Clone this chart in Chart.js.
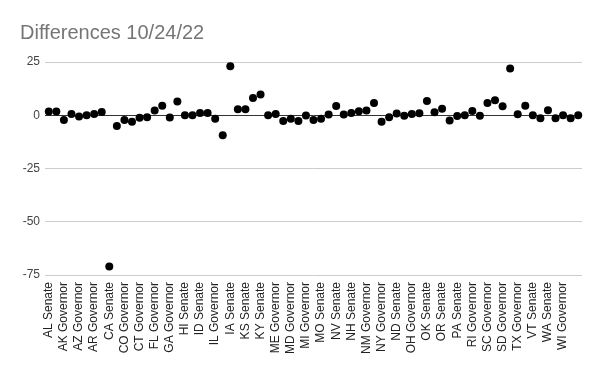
<!DOCTYPE html>
<html>
<head>
<meta charset="utf-8">
<title>Differences 10/24/22</title>
<style>
*{padding:0;margin:0;box-sizing:border-box}
html,body{background:#ffffff}
.wrapper{position:fixed;left:0;top:0;width:600px;height:371px}
</style>
</head>
<body>
<div class="wrapper">
<canvas id="myChart" width="600" height="371"></canvas>
</div>
<script src="https://cdn.jsdelivr.net/npm/chart.js"></script>
<script>
const chartTitle = 'Differences 10/24/22';

const races = [
  'AL Senate', 'AK Senate', 'AK Governor', 'AZ Senate', 'AZ Governor', 'AR Senate', 'AR Governor', 'CA Governor',
  'CA Senate', 'CO Senate', 'CO Governor', 'CT Senate', 'CT Governor', 'FL Senate', 'FL Governor', 'GA Senate',
  'GA Governor', 'HI Governor', 'HI Senate', 'ID Governor', 'ID Senate', 'IL Senate', 'IL Governor', 'IN Senate',
  'IA Senate', 'IA Governor', 'KS Senate', 'KS Governor', 'KY Senate', 'LA Senate', 'ME Governor', 'MD Senate',
  'MD Governor', 'MA Governor', 'MI Governor', 'MN Governor', 'MO Senate', 'NE Governor', 'NV Senate', 'NV Governor',
  'NH Senate', 'NH Governor', 'NM Governor', 'NY Senate', 'NY Governor', 'NC Senate', 'ND Senate', 'OH Senate',
  'OH Governor', 'OK Governor', 'OK Senate', 'OK Senate (Special)', 'OR Senate', 'OR Governor', 'PA Senate', 'PA Governor',
  'RI Governor', 'SC Senate', 'SC Governor', 'SD Senate', 'SD Governor', 'TN Governor', 'TX Governor', 'UT Senate',
  'VT Senate', 'VT Governor', 'WA Senate', 'WI Senate', 'WI Governor', 'WY Governor', 'US House',
];

const differences = [
  1.8, 1.8, -2.2, 0.6, -0.6, 0, 0.6, 1.5,
  -71, -5, -2.2, -3, -1.2, -0.9, 2.2, 4.5,
  -1, 6.5, 0, 0, 1.1, 1.1, -1.6, -9.4,
  23, 2.8, 2.8, 8.1, 9.7, 0, 0.6, -2.7,
  -1.6, -2.7, -0.1, -2.2, -1.7, 0.3, 4.4, 0.3,
  1.1, 1.9, 2.2, 5.8, -3.1, -0.9, 0.8, -0.2,
  0.6, 0.9, 6.7, 1.4, 3.0, -2.5, -0.3, 0,
  2.0, -0.2, 5.8, 7.0, 4.2, 21.9, 0.5, 4.5,
  0, -1.4, 2.3, -1.4, 0, -1.4, 0,
];

const yTicks = [25, 0, -25, -50, -75];

const fontFamily = 'Arial, "Liberation Sans", sans-serif';

let ctx = document.getElementById('myChart').getContext('2d');
let myChart = new Chart(ctx, {
  type: 'line',
  data: {
    labels: races,
    datasets: [{
      label: 'Difference',
      data: differences,
      showLine: false,
      pointRadius: 4,
      pointHoverRadius: 4,
      pointBorderWidth: 0,
      pointBackgroundColor: '#000000',
      pointBorderColor: '#000000',
      backgroundColor: '#000000',
      borderColor: '#000000',
    }],
  },
  options: {
    responsive: false,
    animation: false,
    plugins: {
      legend: { display: false },
      tooltip: { enabled: false },
      title: {
        display: true,
        text: chartTitle,
        align: 'start',
        color: '#757575',
        font: { family: fontFamily, size: 20, weight: 'normal' },
        padding: { top: 21, bottom: 17 },
      },
    },
    scales: {
      x: {
        offset: true,
        grid: { display: false, drawTicks: false },
        border: { display: false },
        afterFit: (scale) => { scale.height = 96; },
        ticks: {
          autoSkip: false,
          maxRotation: 90,
          minRotation: 90,
          padding: 7,
          color: '#222222',
          font: { family: fontFamily, size: 12 },
          callback: function(value, index) {
            return index % 2 === 0 && index < races.length - 1 ? races[index] : '';
          },
        },
      },
      y: {
        min: -75,
        max: 25,
        afterFit: (scale) => { scale.width = 25; },
        afterBuildTicks: (scale) => { scale.ticks = yTicks.map(v => ({ value: v })); },
        border: { display: false },
        grid: {
          drawTicks: false,
          color: (c) => c.tick && c.tick.value === 0 ? '#333333' : '#cccccc',
          lineWidth: 1,
        },
        ticks: {
          padding: 5,
          color: '#444444',
          font: { family: fontFamily, size: 12 },
        },
      },
    },
    layout: {
      padding: { left: 20, right: 18, top: 0, bottom: 0 },
    },
  },
});
</script>
</body>
</html>
